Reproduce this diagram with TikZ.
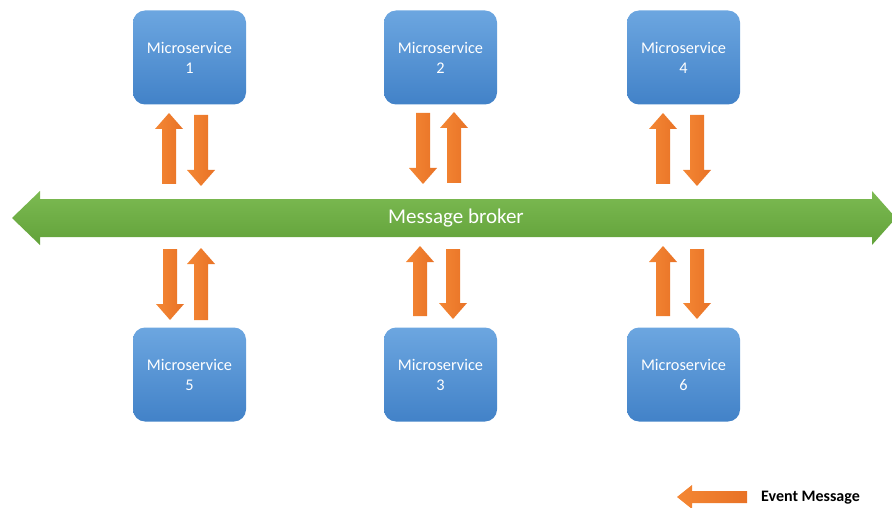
\documentclass[tikz,border=0pt]{standalone}
\usepackage{fontspec}
\setmainfont{Carlito}
\begin{document}
\begin{tikzpicture}[x=1pt,y=-1pt,
  msbox/.style={rounded corners=12pt, minimum width=113pt, minimum height=94pt,
    top color=boxtop, bottom color=boxbot, draw=none, text=white, align=center,
    font=\fontsize{16.3}{20}\selectfont, inner sep=0pt},
  orangearrow/.style={left color=orangeL, right color=orangeR, draw=none},
  label/.style={inner sep=0pt}
]
\definecolor{boxtop}{RGB}{108,166,224}
\definecolor{boxbot}{RGB}{66,130,200}
\definecolor{orangeL}{RGB}{244,135,52}
\definecolor{orangeR}{RGB}{232,114,38}
\definecolor{greentop}{RGB}{124,186,82}
\definecolor{greenbot}{RGB}{98,162,58}

\useasboundingbox (0,0) rectangle (892,508);

% up/down block arrows: centre x, tip y, tail y
\newcommand{\uparrowat}[3]{%
  \path[orangearrow] (#1,#2) -- (#1+14,#2+16) -- (#1+7,#2+16) -- (#1+7,#3)
    -- (#1-7,#3) -- (#1-7,#2+16) -- (#1-14,#2+16) -- cycle;}
\newcommand{\downarrowat}[3]{%
  \path[orangearrow] (#1,#2) -- (#1+14,#2-16) -- (#1+7,#2-16) -- (#1+7,#3)
    -- (#1-7,#3) -- (#1-7,#2-16) -- (#1-14,#2-16) -- cycle;}

% message broker bus
\path[top color=greentop, bottom color=greenbot, draw=none]
  (12,218) -- (40,191) -- (40,199) -- (872,199) -- (872,191) -- (896,218)
  -- (872,245) -- (872,237) -- (40,237) -- (40,245) -- cycle;
\node[label, text=white, font=\fontsize{21}{24}\selectfont] (broker) at (456,218) {Message broker};

% services
\node[msbox] (ms1) at (189.5,57.5) {Microservice\\1};
\node[msbox] (ms2) at (440.5,57.5) {Microservice\\2};
\node[msbox] (ms4) at (683.5,57.5) {Microservice\\4};
\node[msbox] (ms5) at (189.5,374.5) {Microservice\\5};
\node[msbox] (ms3) at (440.5,374.5) {Microservice\\3};
\node[msbox] (ms6) at (683.5,374.5) {Microservice\\6};

% top row traffic
\uparrowat{169}{113}{184}
\downarrowat{201}{186}{115}
\downarrowat{423}{184}{113}
\uparrowat{454}{112}{183}
\uparrowat{663}{113}{184}
\downarrowat{697}{186}{115}

% bottom row traffic
\downarrowat{170}{320}{249}
\uparrowat{201}{248}{320}
\uparrowat{420}{246}{316}
\downarrowat{453}{319}{249}
\uparrowat{663}{246}{316}
\downarrowat{697}{319}{249}

% legend
\path[orangearrow] (677,497) -- (692,485) -- (692,491) -- (747,491) -- (747,503)
  -- (692,503) -- (692,509) -- cycle;
\node[label, font=\bfseries\fontsize{16}{18}\selectfont, anchor=west] (legend) at (761,498) {Event Message};
\end{tikzpicture}
\end{document}
